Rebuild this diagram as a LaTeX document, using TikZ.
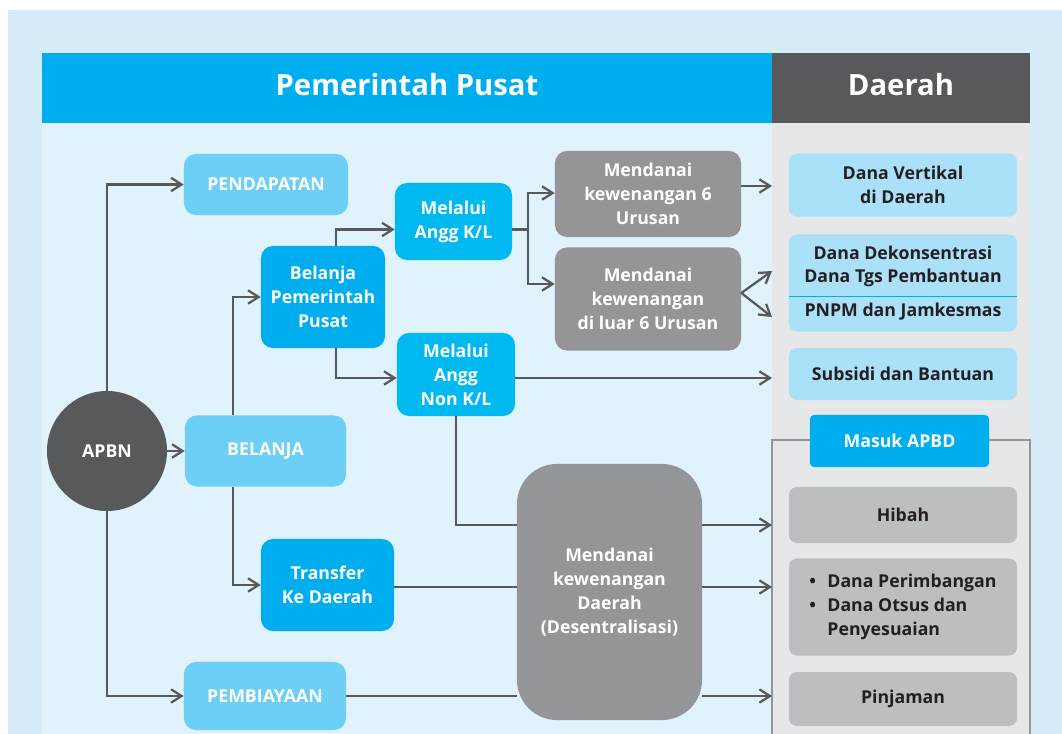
\documentclass[tikz,border=0pt]{standalone}
\usepackage{fontspec}
\setmainfont{Open Sans}
\usepackage{tikz}
\usetikzlibrary{arrows.meta,positioning,calc}
\definecolor{pageBg}{RGB}{214,236,249}
\definecolor{paneBlue}{RGB}{224,242,251}
\definecolor{paneGrey}{RGB}{230,231,232}
\definecolor{headBlue}{RGB}{0,174,239}
\definecolor{headDark}{RGB}{88,89,91}
\definecolor{nodeLight}{RGB}{109,207,246}
\definecolor{nodeCyan}{RGB}{0,174,239}
\definecolor{nodeCyanB}{RGB}{0,185,240}
\definecolor{nodeGrey}{RGB}{147,149,152}
\definecolor{nodePale}{RGB}{171,224,249}
\definecolor{nodeSilver}{RGB}{188,190,192}
\definecolor{inkDark}{RGB}{35,31,32}

\begin{document}
\begin{tikzpicture}[x=0.025cm,y=-0.025cm,
  every node/.style={align=center,inner sep=0pt,font=\bfseries\fontsize{12.6}{17}\selectfont},
  headtext/.style={text=white,font=\bfseries\fontsize{20.8}{24}\selectfont},
  boxlight/.style={fill=nodeLight,text=white,rounded corners=0.3cm},
  boxcyan/.style={fill=nodeCyan,text=white,rounded corners=0.3cm},
  boxcyanb/.style={fill=nodeCyanB,text=white,rounded corners=0.3cm},
  boxgrey/.style={fill=nodeGrey,text=white,rounded corners=0.3cm},
  boxpale/.style={fill=nodePale,text=inkDark,rounded corners=0.2cm,minimum width=5.7cm},
  boxsilver/.style={fill=nodeSilver,text=inkDark,rounded corners=0.2cm,minimum width=5.7cm},
  link/.style={draw=headDark,line width=1.6pt},
  conn/.style={link,-{Straight Barb[length=7.5pt,width=9.5pt,line width=1.6pt]}}]
  \useasboundingbox (0,0) rectangle (1062,734);
  % panes and headers
  \fill[pageBg] (8,10) rectangle (1062,734);
  \fill[paneBlue] (42,123) rectangle (772,734);
  \fill[paneGrey] (772,123) rectangle (1030,734);
  \fill[headBlue] (42,53) rectangle (772,123);
  \fill[headDark] (772,53) rectangle (1030,123);
  \node[headtext] (hpusat) at (407,85) {Pemerintah Pusat};
  \node[headtext] (hdaerah) at (901,85) {Daerah};
  \draw[nodeGrey,line width=1.5pt] (772,440) rectangle (1030,760);

  % pusat side
  \node[fill=headDark,circle,minimum size=3cm,text=white] (apbn) at (107,451) {APBN};
  \node[boxlight,minimum width=4.1cm,minimum height=1.525cm] (pend) at (266,184.5) {PENDAPATAN};
  \node[boxlight,minimum width=4.025cm,minimum height=1.775cm] (bel) at (265.5,451) {BELANJA};
  \node[boxlight,minimum width=4.05cm,minimum height=1.7cm] (pemb) at (265,696) {PEMBIAYAAN};
  \node[boxcyan,minimum width=3.1cm,minimum height=2.55cm] (bpp) at (323,297) {Belanja\\Pemerintah\\Pusat};
  \node[boxcyan,minimum width=3.325cm,minimum height=2.3cm] (trans) at (327.5,585) {Transfer\\Ke Daerah};
  \node[boxcyanb,minimum width=2.925cm,minimum height=1.925cm] (kl) at (453.5,221.5) {Melalui\\Angg K/L};
  \node[boxcyanb,minimum width=2.95cm,minimum height=2.075cm] (nonkl) at (456,374.5) {Melalui\\Angg\\Non K/L};
  \node[boxgrey,minimum width=4.65cm,minimum height=2.15cm] (m6) at (648,194) {Mendanai\\kewenangan 6\\Urusan};
  \node[boxgrey,minimum width=4.65cm,minimum height=2.575cm] (luar) at (648,299) {Mendanai\\kewenangan\\di luar 6 Urusan};
  \node[boxgrey,rounded corners=1cm,minimum width=4.625cm,minimum height=6.4cm] (dsn) at (609.5,592) {Mendanai\\kewenangan\\Daerah\\(Desentralisasi)};

  % daerah side
  \node[boxpale,minimum height=1.575cm] (vert) at (903,185) {Dana Vertikal\\di Daerah};
  \node[boxpale,minimum height=2.425cm] (dekon) at (903,283) {Dana Dekonsentrasi\\Dana Tgs Pembantuan\\[7pt]PNPM dan Jamkesmas};
  \draw[headBlue,line width=1pt] ($(dekon.west)+(0,13.5)$) -- ($(dekon.east)+(0,13.5)$);
  \node[boxpale,minimum height=1.3cm] (subs) at (903,374) {Subsidi dan Bantuan};
  \node[fill=nodeCyan,text=white,rounded corners=0.1cm,minimum width=4.475cm,minimum height=1.3cm] (masuk) at (899.5,441) {Masuk APBD};
  \node[boxsilver,minimum height=1.4cm] (hibah) at (903,515) {Hibah};
  \node[boxsilver,minimum height=2.425cm] (perim) at (903,607) {\begin{tabular}{@{}l@{\hspace{8pt}}l@{}}\textbullet & Dana Perimbangan\\ \textbullet & Dana Otsus dan\\ & Penyesuaian\end{tabular}};
  \node[boxsilver,minimum height=1.35cm] (pinj) at (903,699) {Pinjaman};

  % free ends on the daerah pane
  \coordinate (in1) at (772,186);
  \coordinate (in2a) at (772,271);
  \coordinate (in2b) at (772,317);
  \coordinate (in3) at (772,378);
  \coordinate (in4) at (772,525);
  \coordinate (in5) at (772,587);
  \coordinate (in6) at (772,696);

  % connectors
  \draw[conn] (apbn.north) |- (pend.west);
  \draw[conn] (apbn.south) |- (pemb.west);
  \draw[conn] (apbn.east) -- (bel.west);
  \draw[conn] ($(bel.north)+(-32.5,0)$) |- (bpp.west);
  \draw[conn] ($(bel.south)+(-32.5,0)$) |- (trans.west);
  \draw[conn] ($(bpp.north)+(13,0)$) |- ($(kl.west)+(0,8)$);
  \draw[conn] ($(bpp.south)+(13,0)$) |- ($(nonkl.west)+(0,3.5)$);
  \draw[link] ($(kl.east)+(0,8)$) -- ++(16,0) coordinate (split);
  \draw[conn] (split) |- ($(m6.west)+(0,-1)$);
  \draw[conn] (split) |- ($(luar.west)+(0,-15)$);
  \draw[conn] (m6.east |- in1) -- (in1);
  \draw[conn] ($(luar.east)+(0,-6)$) -- (in2a);
  \draw[conn] ($(luar.east)+(0,-6)$) -- (in2b);
  \draw[conn] (nonkl.east |- in3) -- (in3);
  \draw[link] (nonkl.south) |- (dsn.west |- in4);
  \draw[conn] (dsn.east |- in4) -- (in4);
  \draw[link] (trans.east |- in5) -- (dsn.west |- in5);
  \draw[conn] (dsn.east |- in5) -- (in5);
  \draw[link] (pemb.east) -- (dsn.west |- pemb.east);
  \draw[conn] (dsn.east |- in6) -- (in6);
\end{tikzpicture}
\end{document}
